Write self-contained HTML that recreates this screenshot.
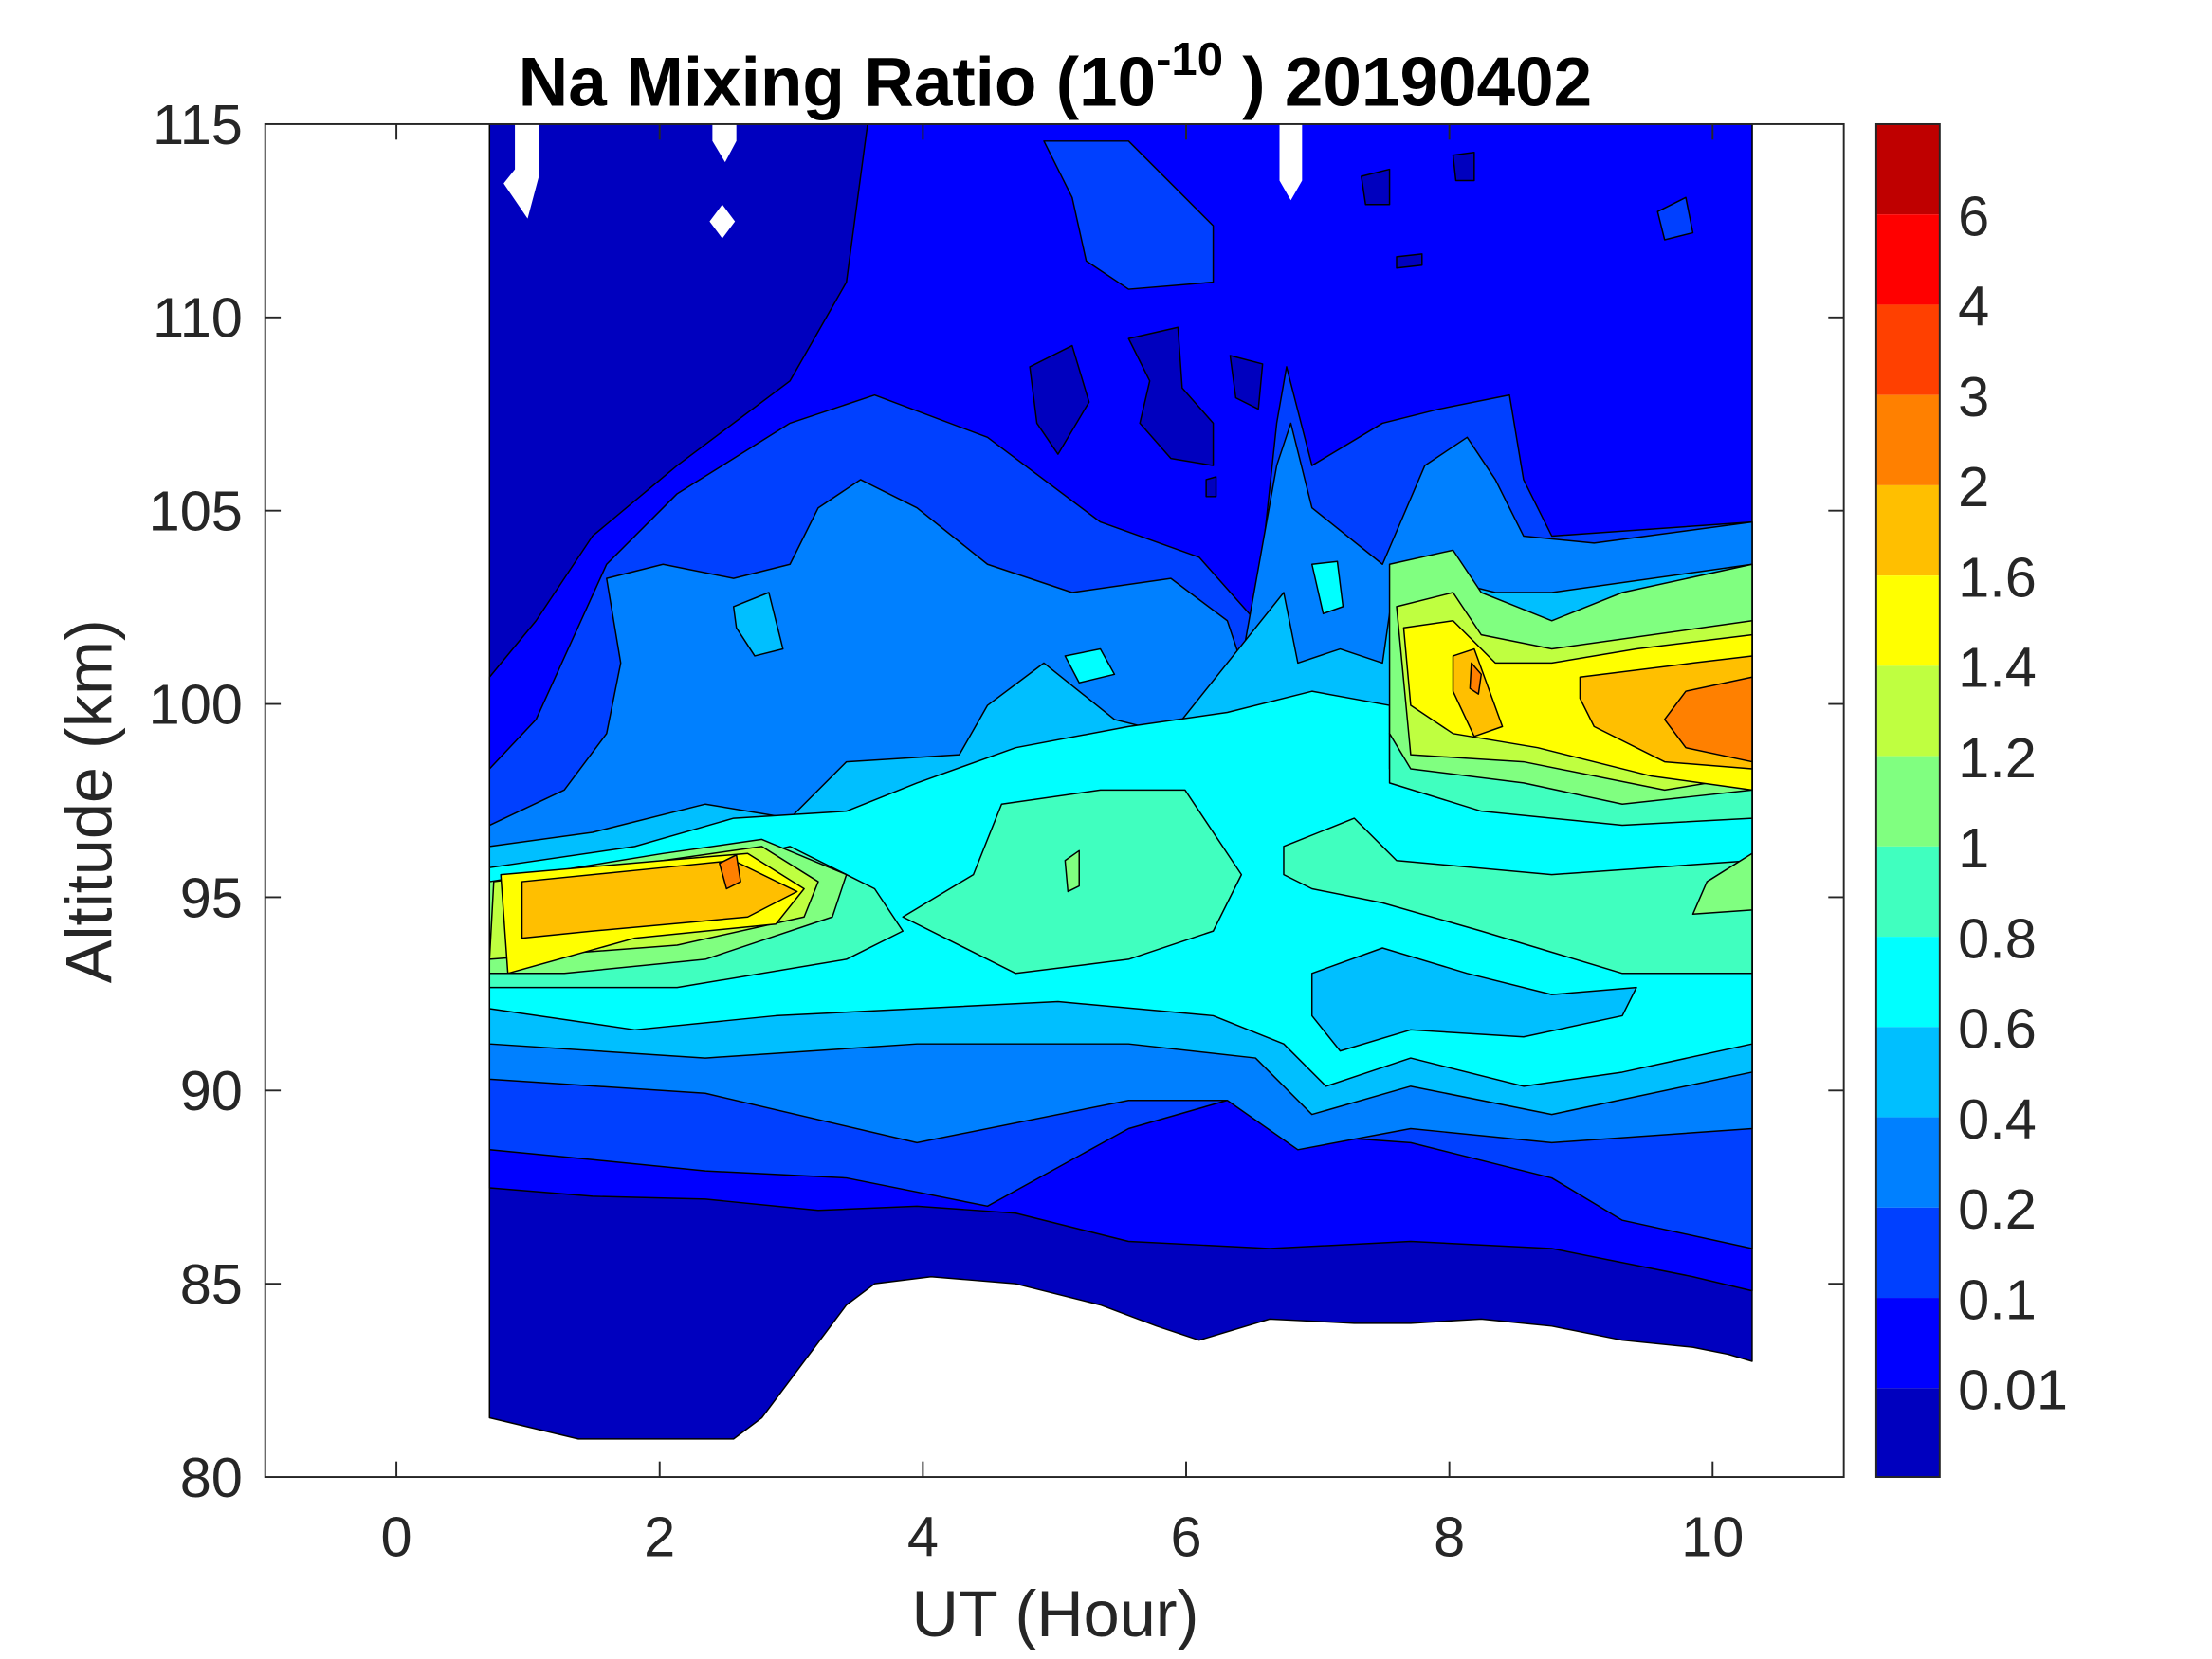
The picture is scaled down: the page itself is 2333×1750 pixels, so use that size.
<!DOCTYPE html>
<html><head><meta charset="utf-8"><style>html,body{margin:0;padding:0;background:#fff}svg{display:block}</style></head><body>
<svg width="2333" height="1750" viewBox="0 0 1568 1176" preserveAspectRatio="none" xmlns="http://www.w3.org/2000/svg" font-family="Liberation Sans, sans-serif">
<rect width="1568" height="1176" fill="#fff"/>
<g stroke="#000" stroke-width="1" stroke-linejoin="round">
<polygon fill="#0000BF" points="347,88 1242,88 1242,965 1225,960 1200,955 1150,950 1100,940 1050,935 1000,938 960,938 900,935 850,950 820,940 780,925 720,910 660,905 620,910 600,925 540,1005 520,1020 410,1020 347,1005"/>
<polygon fill="#0000FF" points="615,88 1242,88 1242,915 1200,905 1100,885 1000,880 900,885 800,880 720,860 650,855 580,858 500,850 420,848 347,842 347,480 380,440 420,380 480,330 560,270 600,200"/>
<polygon fill="#0000BF" points="730,260 760,245 772,285 750,322 735,300"/>
<polygon fill="#0000BF" points="800,240 835,232 838,275 860,300 860,330 830,325 808,300 815,270"/>
<polygon fill="#0000BF" points="872,252 895,258 892,290 876,282"/>
<polygon fill="#0000BF" points="965,125 985,120 985,145 968,145"/>
<polygon fill="#0000BF" points="1030,110 1045,108 1045,128 1032,128"/>
<polygon fill="#0000BF" points="990,182 1008,180 1008,188 990,190"/>
<polygon fill="#0000BF" points="855,340 862,338 862,352 855,352"/>
<polygon fill="#0040FF" points="347,545 380,510 430,400 480,350 560,300 620,280 700,310 780,370 850,395 890,440 905,300 912,260 930,330 980,300 1020,290 1070,280 1080,340 1100,380 1242,370 1242,885 1150,865 1100,835 1000,810 930,805 870,780 800,800 700,855 600,835 500,830 420,822 347,815"/>
<polygon fill="#0040FF" points="740,100 800,100 830,130 860,160 860,200 800,205 770,185 760,140"/>
<polygon fill="#0040FF" points="1175,150 1195,140 1200,165 1180,170"/>
<polygon fill="#0080FF" points="347,585 400,560 430,520 440,470 430,410 470,400 520,410 560,400 580,360 610,340 650,360 700,400 760,420 830,410 870,440 880,470 905,330 915,300 930,360 980,400 1010,330 1040,310 1060,340 1080,380 1130,385 1242,370 1242,800 1100,810 1000,800 920,815 870,780 800,780 650,810 500,775 347,765"/>
<polygon fill="#00BFFF" points="347,600 420,590 500,570 560,580 600,540 680,535 700,500 740,470 790,510 830,520 870,470 910,420 920,470 950,460 980,470 990,400 1020,410 1060,420 1100,420 1242,400 1242,760 1100,790 1000,770 930,790 890,750 800,740 650,740 500,750 347,740"/>
<polygon fill="#00BFFF" points="520,430 545,420 555,460 535,465 522,445"/>
<polygon fill="#00FFFF" points="347,615 450,600 520,580 600,575 650,555 720,530 800,515 870,505 930,490 985,500 985,545 1040,570 1100,560 1242,540 1242,740 1150,760 1080,770 1000,750 940,770 910,740 860,720 750,710 650,715 550,720 450,730 347,715"/>
<polygon fill="#00BFFF" points="930,690 980,672 1040,690 1100,705 1160,700 1150,720 1080,735 1000,730 950,745 930,720"/>
<polygon fill="#00FFFF" points="755,465 780,460 790,478 765,484"/><polygon fill="#00FFFF" points="930,400 948,398 952,430 938,435"/>
<polygon fill="#40FFBF" points="347,625 500,615 560,600 620,630 640,660 600,680 480,700 347,700"/>
<polygon fill="#40FFBF" points="710,570 780,560 840,560 880,620 860,660 800,680 720,690 640,650 690,620"/>
<polygon fill="#40FFBF" points="910,600 960,580 990,610 1100,620 1242,610 1242,690 1150,690 1050,660 980,640 930,630 910,620"/>
<polygon fill="#40FFBF" points="985,520 1100,530 1242,515 1242,580 1150,585 1050,575 985,555"/>
<polygon fill="#80FF80" points="347,625 470,605 540,595 600,620 590,650 500,680 400,690 347,690"/>
<polygon fill="#80FF80" points="985,400 1030,390 1050,420 1100,440 1150,420 1242,400 1242,560 1150,570 1080,555 1000,545 985,520"/>
<polygon fill="#80FF80" points="1210,625 1242,605 1242,645 1200,648"/>
<polygon fill="#80FF80" points="755,610 765,603 765,628 757,632"/>
<polygon fill="#BFFF40" points="350,625 470,610 540,600 580,625 570,650 480,670 347,680"/>
<polygon fill="#BFFF40" points="990,430 1030,420 1050,450 1100,460 1242,440 1242,550 1180,560 1080,540 1000,535"/>
<polygon fill="#FFFF00" points="355,620 470,610 530,605 570,630 550,655 450,665 360,690"/>
<polygon fill="#FFFF00" points="995,445 1030,440 1060,470 1100,470 1160,460 1242,450 1242,560 1170,550 1090,530 1030,520 1000,500"/>
<polygon fill="#FFBF00" points="370,625 470,615 520,610 565,632 530,650 420,660 370,665"/>
<polygon fill="#FFBF00" points="1030,465 1045,460 1065,515 1045,522 1030,490"/>
<polygon fill="#FFBF00" points="1120,480 1200,470 1242,465 1242,545 1180,540 1130,515 1120,495"/>
<polygon fill="#FF8000" points="1195,490 1242,480 1242,540 1195,530 1180,510"/>
<polygon fill="#FF8000" points="510,612 522,606 525,625 515,630"/>
<polygon fill="#FF8000" points="1043,470 1050,478 1048,492 1042,488"/>
</g>
<g fill="#fff">
<polygon points="365,88 382,88 382,125 374,155 357,130 365,120"/>
<polygon points="505,88 522,88 522,100 514,115 505,100"/>
<polygon points="512,145 521,157 512,169 503,157"/>
<polygon points="907,88 923,88 923,128 915,142 907,128"/>
</g>
<rect x="188" y="88" width="1119" height="959" fill="none" stroke="#262626" stroke-width="1.3"/>
<g stroke="#262626" stroke-width="1.3">
<line x1="281" y1="1047" x2="281" y2="1036"/><line x1="467.6" y1="1047" x2="467.6" y2="1036"/><line x1="654.2" y1="1047" x2="654.2" y2="1036"/><line x1="840.8" y1="1047" x2="840.8" y2="1036"/><line x1="1027.4" y1="1047" x2="1027.4" y2="1036"/><line x1="1214" y1="1047" x2="1214" y2="1036"/>
<line x1="281" y1="88" x2="281" y2="99"/><line x1="467.6" y1="88" x2="467.6" y2="99"/><line x1="654.2" y1="88" x2="654.2" y2="99"/><line x1="840.8" y1="88" x2="840.8" y2="99"/><line x1="1027.4" y1="88" x2="1027.4" y2="99"/><line x1="1214" y1="88" x2="1214" y2="99"/>
<line x1="188" y1="225" x2="199" y2="225"/><line x1="188" y1="362" x2="199" y2="362"/><line x1="188" y1="499" x2="199" y2="499"/><line x1="188" y1="636" x2="199" y2="636"/><line x1="188" y1="773" x2="199" y2="773"/><line x1="188" y1="910" x2="199" y2="910"/>
<line x1="1307" y1="225" x2="1296" y2="225"/><line x1="1307" y1="362" x2="1296" y2="362"/><line x1="1307" y1="499" x2="1296" y2="499"/><line x1="1307" y1="636" x2="1296" y2="636"/><line x1="1307" y1="773" x2="1296" y2="773"/><line x1="1307" y1="910" x2="1296" y2="910"/>
</g>
<g font-size="40" fill="#262626" text-anchor="middle">
<text x="281" y="1103">0</text><text x="467.6" y="1103">2</text><text x="654.2" y="1103">4</text><text x="840.8" y="1103">6</text><text x="1027.4" y="1103">8</text><text x="1214" y="1103">10</text>
</g>
<g font-size="40" fill="#262626" text-anchor="end">
<text x="172" y="102">115</text><text x="172" y="239">110</text><text x="172" y="376">105</text><text x="172" y="513">100</text><text x="172" y="650">95</text><text x="172" y="787">90</text><text x="172" y="924">85</text><text x="172" y="1061">80</text>
</g>
<text x="748" y="1160" font-size="46" fill="#262626" text-anchor="middle">UT (Hour)</text>
<text transform="translate(79,568) rotate(-90)" font-size="46" fill="#262626" text-anchor="middle">Altitude (km)</text>
<text x="748" y="75" font-size="49" font-weight="bold" fill="#000" text-anchor="middle">Na Mixing Ratio (10<tspan font-size="33" dy="-22">-10</tspan><tspan dy="22"> ) 20190402</tspan></text>
<g stroke="none">
<rect x="1330" y="88" width="45" height="64" fill="#BF0000"/>
<rect x="1330" y="152" width="45" height="64" fill="#FF0000"/>
<rect x="1330" y="216" width="45" height="64" fill="#FF4000"/>
<rect x="1330" y="280" width="45" height="64" fill="#FF8000"/>
<rect x="1330" y="344" width="45" height="64" fill="#FFBF00"/>
<rect x="1330" y="408" width="45" height="64" fill="#FFFF00"/>
<rect x="1330" y="472" width="45" height="64" fill="#BFFF40"/>
<rect x="1330" y="536" width="45" height="64" fill="#80FF80"/>
<rect x="1330" y="600" width="45" height="64" fill="#40FFBF"/>
<rect x="1330" y="664" width="45" height="64" fill="#00FFFF"/>
<rect x="1330" y="728" width="45" height="64" fill="#00BFFF"/>
<rect x="1330" y="792" width="45" height="64" fill="#0080FF"/>
<rect x="1330" y="856" width="45" height="64" fill="#0040FF"/>
<rect x="1330" y="920" width="45" height="64" fill="#0000FF"/>
<rect x="1330" y="984" width="45" height="63" fill="#0000BF"/>
</g>
<rect x="1330" y="88" width="45" height="959" fill="none" stroke="#262626" stroke-width="1.3"/>
<g font-size="40" fill="#262626">
<text x="1388" y="167">6</text><text x="1388" y="231">4</text><text x="1388" y="295">3</text><text x="1388" y="359">2</text><text x="1388" y="423">1.6</text><text x="1388" y="487">1.4</text><text x="1388" y="551">1.2</text><text x="1388" y="615">1</text><text x="1388" y="679">0.8</text><text x="1388" y="743">0.6</text><text x="1388" y="807">0.4</text><text x="1388" y="871">0.2</text><text x="1388" y="935">0.1</text><text x="1388" y="999">0.01</text>
</g>
</svg>
</body></html>
